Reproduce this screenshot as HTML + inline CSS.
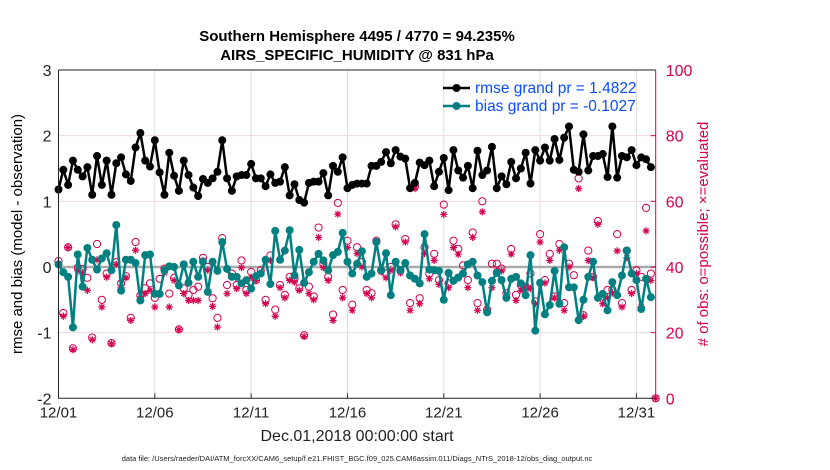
<!DOCTYPE html>
<html><head><meta charset="utf-8">
<style>
html,body{margin:0;padding:0;background:#fff;}
svg{display:block;font-family:"Liberation Sans",sans-serif;}
</style></head>
<body>
<svg id="chart" width="830" height="470" viewBox="0 0 830 470">
  <rect x="0" y="0" width="830" height="470" fill="#fff"/>
  <text x="357" y="41" text-anchor="middle" font-size="15" font-weight="bold">Southern Hemisphere 4495 / 4770 = 94.235%</text>
  <text x="357" y="60" text-anchor="middle" font-size="15" font-weight="bold">AIRS_SPECIFIC_HUMIDITY @ 831 hPa</text>
  <g id="grid"></g>
  <g id="obs"></g>
  <g id="series"></g>
  <g id="axes"></g>
  <text transform="translate(22,234) rotate(-90)" text-anchor="middle" font-size="15">rmse and bias (model - observation)</text>
  <text transform="translate(708,234) rotate(-90)" text-anchor="middle" font-size="15" fill="#d5004f"># of obs: o=possible; ×=evaluated</text>
  <text x="357" y="441" text-anchor="middle" font-size="16" fill="#222">Dec.01,2018 00:00:00 start</text>
  <text x="357" y="461" text-anchor="middle" font-size="7.5" fill="#222">data file: /Users/raeder/DAI/ATM_forcXX/CAM6_setup/f.e21.FHIST_BGC.f09_025.CAM6assim.011/Diags_NTrS_2018-12/obs_diag_output.nc</text>
  <g id="legend"></g>
</svg>
<script>
const xTickDays = [0,5,10,15,20,25,30];
const xTickLabels = ["12/01","12/06","12/11","12/16","12/21","12/26","12/31"];
const yLeftTicks = [-2,-1,0,1,2,3];
const yRightTicks = [0,20,40,60,80,100];
const rmse = [1.18,1.48,1.25,1.62,1.48,1.38,1.52,1.1,1.69,1.25,1.62,1.1,1.58,1.67,1.41,1.31,1.82,2.04,1.62,1.53,1.93,1.44,1.1,1.74,1.39,1.16,1.62,1.4,1.21,1.08,1.34,1.28,
1.35,1.45,1.93,1.35,1.16,1.38,1.4,1.4,1.57,1.35,1.35,1.23,1.41,1.28,1.3,1.52,1.09,1.26,1.02,0.98,1.28,1.3,1.3,1.43,1.09,1.54,1.45,1.67,1.2,1.25,1.27,1.27,
1.27,1.54,1.54,1.6,1.75,1.58,1.78,1.68,1.65,1.2,1.28,1.59,1.55,1.62,1.23,1.45,1.66,1.17,1.78,1.47,1.36,1.54,1.2,1.77,1.4,1.47,1.83,1.2,
1.38,1.26,1.6,1.35,1.5,1.74,1.27,1.78,1.62,1.82,1.62,1.95,1.63,1.97,2.14,1.48,1.45,2.02,1.47,1.69,1.69,1.72,1.37,2.14,1.36,1.69,1.67,1.78,1.55,1.67,1.64,1.52];
const bias = [0.04,-0.08,-0.15,-0.92,0.19,-0.3,0.29,0.11,-0.04,0.13,0.21,-0.05,0.64,-0.36,0.11,0.11,0.06,-0.51,0.18,0.19,-0.41,-0.41,-0.05,0.01,0,-0.28,0.04,-0.24,0.08,-0.15,0.08,-0.38,
0.08,-0.06,0.38,-0.03,-0.15,-0.15,-0.25,-0.2,-0.33,-0.14,-0.1,0.11,-0.26,0.55,0.11,0.25,0.56,-0.13,0.26,-0.24,-0.08,0.08,0.2,0.1,-0.05,0.18,0.23,0.52,0.08,-0.1,0.05,0.24,
-0.15,-0.1,0.38,-0.05,0.21,-0.43,0.08,-0.05,0.06,-0.13,-0.18,-0.25,0.5,-0.04,-0.05,-0.06,-0.5,-0.09,-0.21,-0.16,-0.1,0.04,0.08,-0.13,-0.23,-0.69,-0.21,-0.09,
-0.2,-0.47,-0.18,-0.15,-0.25,-0.43,0.18,-0.97,-0.24,-0.72,-0.58,-0.06,-0.56,0.3,-0.31,-0.31,-0.81,-0.5,-0.15,0.08,-0.47,-0.41,-0.66,-0.23,-0.43,-0.13,0.25,-0.1,-0.2,-0.64,-0.18,-0.46];
const nEvaluated = [40.8,25.0,45.9,14.8,38.8,38.2,32.9,17.8,42.2,27.8,36.9,16.6,40.8,33.7,36.7,23.7,45.1,30.3,31.9,32.9,27.8,31.9,38.2,27.8,35.9,20.9,31.9,29.8,29.8,29.8,42.0,39.0,
28.0,21.7,47.3,31.9,36.9,33.4,39.8,31.9,36.9,35.9,38.0,28.8,42.0,25.0,33.7,30.6,35.9,35.4,32.9,18.8,31.9,30.0,49.0,39.8,35.9,23.7,56.1,30.6,45.9,26.8,44.1,40.0,
31.9,30.6,47.6,38.5,36.7,39.0,52.2,38.2,47.6,26.8,63.9,28.8,44.1,36.4,42.0,34.7,56.0,33.7,45.9,43.9,38.0,33.7,49.0,26.8,56.8,26.6,33.7,38.8,
38.8,30.6,43.9,29.8,32.9,33.7,33.4,28.8,47.6,35.1,42.0,30.6,45.1,26.8,40.0,33.7,63.9,25.0,42.0,36.7,53.0,28.8,30.6,32.1,44.9,27.8,42.8,31.9,38.0,28.0,51.0,35.9,0];
const nPossible = [41.8,26.0,46,15.2,39.8,39.4,36.7,18.5,47.0,30.0,38.0,16.8,41.5,35.0,37.2,24.5,47.6,31.3,33.5,35.0,30.6,36.4,39.5,31.9,36.7,21.0,33.5,31.5,33.0,34.0,42.8,40.0,
30.5,24.5,48.8,34.5,38.0,34.5,42.0,33.0,38.5,36.0,39.0,30.0,43.5,27.0,34.5,31.5,37.0,36.5,33.5,19.2,34.0,31.0,52.0,41.0,37.0,25.5,59.5,33.0,48.0,28.5,46.0,41.5,
33.0,32.0,48.0,39.0,38.0,40.0,53.0,39.0,48.5,29.0,64.5,30.5,46.0,38.0,44.0,36.0,59.0,35.0,48.0,45.5,40.5,36.0,50.5,29.0,60.0,27.0,41.0,41.0,
39.5,32.0,45.5,31.5,34.5,34.0,38.0,29.5,50.0,36.0,44.0,31.0,47.0,29.0,41.0,37.5,67.0,25.3,45.0,37.0,54.0,31.0,33.0,33.0,50.0,29.0,45.0,33.0,39.0,37.0,58.0,38.0,0];
const legendLabels = ["rmse grand pr = 1.4822","bias grand pr = -0.1027"];

const NS="http://www.w3.org/2000/svg";
const X0=58.5,X1=655.7,Y0=70,Y1=398.3,DMAX=31;
const xs=d=>X0+(X1-X0)*d/DMAX;
const yL=v=>Y1-(v+2)/5*(Y1-Y0);
const yR=v=>Y1-v/100*(Y1-Y0);
function mk(tag,attrs,parent){const e=document.createElementNS(NS,tag);for(const k in attrs)e.setAttribute(k,attrs[k]);parent.appendChild(e);return e;}
const grid=document.getElementById('grid'),axes=document.getElementById('axes'),obs=document.getElementById('obs'),ser=document.getElementById('series'),leg=document.getElementById('legend');
const RED="#d5004f",TEAL="#008080";

xTickDays.forEach((d,i)=>{
  const g=mk('line',{x1:xs(d),x2:xs(d),y1:Y0,y2:Y1,stroke:'#dcdcdc','stroke-width':1},grid);
  
  
  const t=mk('line',{x1:xs(d),x2:xs(d),y1:Y1,y2:Y1-5,stroke:'#333'},axes);
  
  
  const tx=mk('text',{x:xs(d),y:Y1+19,'text-anchor':'middle','font-size':15,fill:'#222'},axes);
  tx.textContent=xTickLabels[i];
  
  
});
yLeftTicks.forEach(v=>{
  if(v>-2&&v<3&&v!==0){
    const g=mk('line',{x1:X0,x2:X1,y1:yL(v),y2:yL(v),stroke:'#f0d8e2','stroke-width':1},grid);
    
    
  }
  const tx=mk('text',{x:X0-7,y:yL(v)+6,'text-anchor':'end','font-size':16,fill:'#222'},axes);
  tx.textContent=v;
  
  
});
yRightTicks.forEach(v=>{
  const tx=mk('text',{x:X1+10,y:yR(v)+6,'text-anchor':'start','font-size':16,fill:RED},axes);
  tx.textContent=v;
  
  
  const t=mk('line',{x1:X1,x2:X1-5,y1:yR(v),y2:yR(v),stroke:RED},axes);
  
  
});
const zl=mk('line',{x1:X0,x2:X1,y1:yL(0),y2:yL(0),stroke:'#aaa','stroke-width':2.5},grid);



// obs markers
nPossible.forEach((v,i)=>{
  const c=mk('circle',{cx:xs(i*0.25),cy:yR(v),r:3.6,fill:'none',stroke:RED,'stroke-width':1},obs);
  
  
});
nEvaluated.forEach((v,i)=>{
  const x=xs(i*0.25),y=yR(v),r=3.6;
  const p=mk('path',{d:`M${x-r} ${y}H${x+r}M${x} ${y-r}V${y+r}M${x-r*0.7} ${y-r*0.7}L${x+r*0.7} ${y+r*0.7}M${x-r*0.7} ${y+r*0.7}L${x+r*0.7} ${y-r*0.7}`,stroke:RED,'stroke-width':1.2},obs);
  
  
});

function series(vals,color,name){
  const pts=vals.map((v,i)=>xs(i*0.25)+','+yL(v)).join(' ');
  const pl=mk('polyline',{points:pts,fill:'none',stroke:color,'stroke-width':2.5,'stroke-linejoin':'round'},ser);
  
  
  vals.forEach((v,i)=>{
    const c=mk('circle',{cx:xs(i*0.25),cy:yL(v),r:4,fill:color},ser);
    
    
  });
}
series(bias,TEAL,'bias');
series(rmse,'#000','rmse');

// frame
const fr=mk('path',{d:`M${X0} ${Y0}H${X1}M${X0} ${Y0}V${Y1}H${X1}`,fill:'none',stroke:'#222','stroke-width':1},axes);


const ra=mk('line',{x1:X1,x2:X1,y1:Y0,y2:Y1,stroke:RED,'stroke-width':1},axes);



// legend
[['#000',88],[TEAL,106]].forEach((s,i)=>{
  const l=mk('line',{x1:443,x2:470,y1:s[1],y2:s[1],stroke:s[0],'stroke-width':2.5},leg);
  
  
  const c=mk('circle',{cx:456.5,cy:s[1],r:4,fill:s[0]},leg);
  
  
  const t=mk('text',{x:475,y:s[1]+5,'font-size':15.5,fill:'#0a4cff'},leg);
  t.textContent=legendLabels[i];
  
  
});
</script>
</body></html>
